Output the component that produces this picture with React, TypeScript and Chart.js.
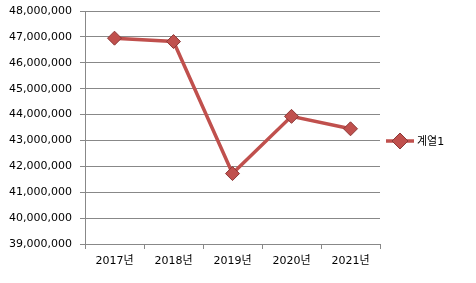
import React, { useEffect, useRef } from "react";
import { Chart, registerables } from "chart.js";

Chart.register(...registerables);

const categories = ["2017년", "2018년", "2019년", "2020년", "2021년"];
const seriesName = "계열1";
const seriesValues = [46950000, 46820000, 41720000, 43930000, 43450000];
const yMin = 39000000;
const yMax = 48000000;
const yStep = 1000000;

const FONT = "'DejaVu Sans', 'Noto Sans CJK KR', sans-serif";

const legendPlugin = {
  id: "excelLegend",
  afterDraw(chart: any) {
    const ctx = chart.ctx;
    const ds = chart.data.datasets[0];
    const y = 141;
    const x0 = 386;
    ctx.save();
    ctx.strokeStyle = "#c0504d";
    ctx.lineWidth = 3.5;
    ctx.beginPath();
    ctx.moveTo(x0, y);
    ctx.lineTo(x0 + 28, y);
    ctx.stroke();
    const cx = x0 + 14;
    const r = 8;
    ctx.fillStyle = "#c0504d";
    ctx.strokeStyle = "#8c3836";
    ctx.lineWidth = 1;
    ctx.beginPath();
    ctx.moveTo(cx, y - r);
    ctx.lineTo(cx + r, y);
    ctx.lineTo(cx, y + r);
    ctx.lineTo(cx - r, y);
    ctx.closePath();
    ctx.fill();
    ctx.stroke();
    ctx.fillStyle = "#000";
    ctx.font = `11px ${FONT}`;
    ctx.textBaseline = "middle";
    ctx.textAlign = "left";
    ctx.fillText(ds.label, x0 + 31, y + 1);
    ctx.restore();
  },
};

export default function App() {
  const ref = useRef<HTMLCanvasElement | null>(null);
  useEffect(() => {
    document.body.style.margin = "0";
    const chart = new Chart(ref.current as HTMLCanvasElement, {
      type: "line",
      data: {
        labels: categories,
        datasets: [
          {
            label: seriesName,
            data: seriesValues,
            borderColor: "#c0504d",
            borderWidth: 3.5,
            pointStyle: "rectRot",
            pointRadius: 7,
            pointBackgroundColor: "#c0504d",
            pointBorderColor: "#8c3836",
            pointBorderWidth: 1,
            tension: 0,
          },
        ],
      },
      options: {
        animation: false,
        responsive: false,
        layout: { padding: { left: 0, right: 96, top: 11, bottom: 0 } },
        plugins: { legend: { display: false }, tooltip: { enabled: false } },
        scales: {
          x: {
            offset: true,
            grid: {
              offset: true,
              drawOnChartArea: false,
              drawTicks: true,
              tickLength: 5,
              color: "#888",
            },
            border: { color: "#888" },
            ticks: { color: "#000", font: { family: FONT, size: 11 }, padding: 6, maxRotation: 0 },
            afterFit(scale: any) {
              scale.height = 39;
            },
          },
          y: {
            min: yMin,
            max: yMax,
            ticks: {
              stepSize: yStep,
              color: "#000",
              font: { family: FONT, size: 11 },
              padding: 8,
              callback: (v: any) => Number(v).toLocaleString("en-US"),
            },
            grid: { color: "#888", tickLength: 5, drawTicks: true },
            border: { color: "#888" },
            afterFit(scale: any) {
              scale.width = 85;
              scale.paddingTop = 0;
            },
          },
        },
      },
      plugins: [legendPlugin],
    });
    return () => chart.destroy();
  }, []);
  return <canvas ref={ref} width={476} height={283} style={{ display: "block" }} />;
}
